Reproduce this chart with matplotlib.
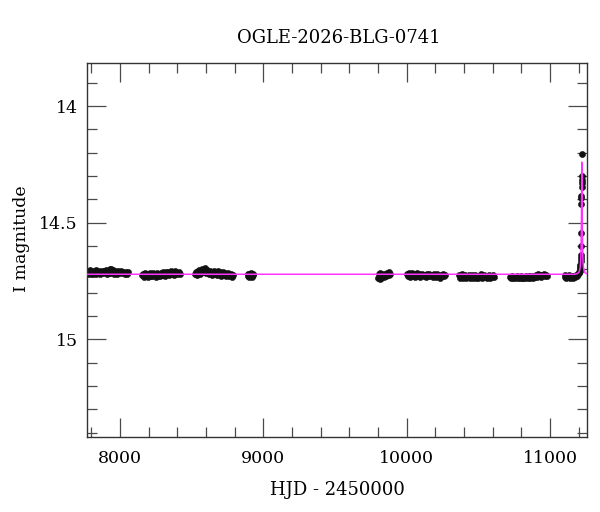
import matplotlib
matplotlib.use("Agg")
import matplotlib.pyplot as plt
from matplotlib.ticker import MultipleLocator

plt.rcParams['font.family'] = ['DejaVu Serif']

title = "OGLE-2026-BLG-0741"
xlabel = "HJD - 2450000"
ylabel = "I magnitude"

# ---- observations (HJD-2450000, I mag), per season ----
t_s1 = [7774, 7779, 7786, 7792, 7797, 7805, 7811, 7818, 7823, 7830, 7836, 7843, 7849, 7856,
        7862, 7868, 7875, 7881, 7888, 7894, 7901, 7907, 7914, 7920, 7927, 7933, 7940, 7946,
        7953, 7959, 7966, 7973, 7980, 7988, 7996, 8005, 8014, 8024, 8034, 8043, 8051, 8058]
m_s1 = [14.709, 14.720, 14.712, 14.704, 14.718, 14.711, 14.722, 14.707, 14.715, 14.703, 14.719,
        14.710, 14.716, 14.706, 14.721, 14.712, 14.705, 14.717, 14.709, 14.713, 14.702, 14.719,
        14.708, 14.714, 14.700, 14.716, 14.697, 14.710, 14.703, 14.718, 14.707, 14.713, 14.720,
        14.709, 14.715, 14.705, 14.717, 14.711, 14.721, 14.713, 14.718, 14.710]

t_s2 = [8153, 8159, 8165, 8171, 8177, 8183, 8189, 8195, 8201, 8207, 8213, 8219, 8225, 8231,
        8237, 8243, 8249, 8255, 8261, 8267, 8273, 8279, 8285, 8291, 8297, 8303, 8309, 8315,
        8321, 8327, 8333, 8339, 8346, 8353, 8360, 8368, 8376, 8384, 8392, 8401, 8411, 8421]
m_s2 = [14.726, 14.718, 14.731, 14.722, 14.715, 14.729, 14.720, 14.733, 14.724, 14.717, 14.728,
        14.721, 14.730, 14.716, 14.725, 14.719, 14.732, 14.723, 14.714, 14.727, 14.720, 14.729,
        14.716, 14.724, 14.712, 14.726, 14.719, 14.728, 14.713, 14.722, 14.710, 14.725, 14.717,
        14.706, 14.721, 14.712, 14.723, 14.705, 14.716, 14.722, 14.713, 14.719]

t_s3 = [8524, 8530, 8536, 8542, 8548, 8554, 8560, 8566, 8572, 8578, 8584, 8590, 8596, 8602,
        8608, 8614, 8620, 8626, 8632, 8638, 8644, 8650, 8656, 8662, 8668, 8674, 8680, 8686,
        8692, 8698, 8704, 8711, 8718, 8725, 8732, 8740, 8748, 8756, 8764, 8772, 8781, 8790]
m_s3 = [14.720, 14.711, 14.724, 14.706, 14.716, 14.702, 14.719, 14.708, 14.699, 14.713, 14.703,
        14.695, 14.709, 14.717, 14.704, 14.712, 14.721, 14.707, 14.715, 14.710, 14.723, 14.714,
        14.706, 14.719, 14.712, 14.725, 14.716, 14.709, 14.722, 14.713, 14.727, 14.718, 14.711,
        14.724, 14.716, 14.729, 14.720, 14.714, 14.727, 14.721, 14.731, 14.723]

t_s4 = [8890, 8895, 8899, 8903, 8907, 8911, 8915, 8920, 8925, 8929]
m_s4 = [14.727, 14.718, 14.731, 14.722, 14.729, 14.716, 14.726, 14.733, 14.720, 14.725]

t_s5 = [9803, 9807, 9811, 9815, 9819, 9824, 9829, 9835, 9842, 9850, 9858, 9866, 9874, 9880, 9885]
m_s5 = [14.735, 14.722, 14.741, 14.715, 14.730, 14.738, 14.719, 14.727, 14.733, 14.721, 14.728,
        14.716, 14.724, 14.713, 14.720]

t_s6 = [10003, 10009, 10015, 10022, 10028, 10035, 10042, 10049, 10056, 10063, 10070, 10078,
        10086, 10094, 10102, 10110, 10118, 10126, 10134, 10142, 10150, 10158, 10166, 10174,
        10182, 10190, 10198, 10206, 10214, 10222, 10230, 10238, 10246, 10254, 10261, 10267]
m_s6 = [14.718, 14.729, 14.714, 14.733, 14.721, 14.716, 14.727, 14.719, 14.731, 14.723, 14.717,
        14.728, 14.722, 14.732, 14.725, 14.719, 14.730, 14.724, 14.734, 14.721, 14.727, 14.718,
        14.729, 14.723, 14.733, 14.720, 14.726, 14.731, 14.719, 14.728, 14.735, 14.724, 14.730,
        14.722, 14.728, 14.725]

t_s7 = [10362, 10369, 10376, 10383, 10390, 10397, 10404, 10411, 10418, 10425, 10432, 10439,
        10446, 10453, 10460, 10467, 10474, 10481, 10488, 10495, 10502, 10509, 10516, 10523,
        10530, 10537, 10544, 10551, 10558, 10565, 10572, 10580, 10588, 10596, 10604, 10612]
m_s7 = [14.726, 14.735, 14.729, 14.722, 14.737, 14.731, 14.725, 14.738, 14.728, 14.733, 14.723,
        14.736, 14.730, 14.726, 14.739, 14.732, 14.724, 14.735, 14.729, 14.737, 14.727, 14.733,
        14.722, 14.736, 14.730, 14.725, 14.734, 14.728, 14.738, 14.731, 14.724, 14.735, 14.729,
        14.733, 14.726, 14.731]

t_s8 = [10719, 10726, 10733, 10740, 10747, 10754, 10761, 10768, 10775, 10782, 10789, 10796,
        10803, 10810, 10817, 10824, 10831, 10838, 10845, 10852, 10859, 10866, 10873, 10880,
        10887, 10894, 10901, 10908, 10915, 10922, 10930, 10938, 10946, 10955, 10964, 10971, 10978]
m_s8 = [14.733, 14.738, 14.729, 14.736, 14.731, 14.739, 14.734, 14.728, 14.737, 14.732, 14.739,
        14.730, 14.735, 14.738, 14.731, 14.736, 14.729, 14.734, 14.738, 14.730, 14.735, 14.727,
        14.733, 14.737, 14.729, 14.734, 14.725, 14.731, 14.722, 14.730, 14.724, 14.733, 14.726,
        14.721, 14.729, 14.724, 14.728]

t_s9 = [11102, 11108, 11114, 11120, 11127, 11134, 11141, 11148, 11155, 11162, 11169, 11176,
        11183, 11189, 11195, 11200, 11204, 11207, 11209, 11211, 11212, 11213, 11214, 11215,
        11216, 11217, 11218, 11219, 11219.5, 11220, 11220.5, 11221, 11221.5, 11222]
m_s9 = [14.732, 14.726, 14.737, 14.729, 14.734, 14.725, 14.736, 14.730, 14.727, 14.735, 14.729,
        14.733, 14.724, 14.730, 14.722, 14.716, 14.710, 14.705, 14.700, 14.690, 14.680, 14.665,
        14.650, 14.640, 14.600, 14.545, 14.420, 14.395, 14.385, 14.345, 14.330, 14.315, 14.300,
        14.207]

seasons = [(t_s1, m_s1), (t_s2, m_s2), (t_s3, m_s3), (t_s4, m_s4), (t_s5, m_s5),
           (t_s6, m_s6), (t_s7, m_s7), (t_s8, m_s8), (t_s9, m_s9)]

# ---- fitted model curve (magenta) ----
t_model = [7700, 11170, 11190, 11200, 11206, 11210, 11213, 11215, 11217, 11219, 11220.5, 11222,
           11223.5, 11225, 11227, 11229, 11231, 11234, 11238, 11244, 11254, 11300]
m_model = [14.721, 14.721, 14.718, 14.714, 14.706, 14.693, 14.673, 14.648, 14.60, 14.50, 14.38,
           14.24, 14.38, 14.50, 14.60, 14.648, 14.673, 14.693, 14.706, 14.714, 14.718, 14.721]

xlim = (7772, 11260)
ylim = (15.42, 13.814)
xticks_major = [8000, 9000, 10000, 11000]
yticks_major = [14.0, 14.5, 15.0]
ytick_labels = ["14", "14.5", "15"]

fig = plt.figure(figsize=(6.0, 5.12), dpi=100)
ax = fig.add_axes([0.1455, 0.1459, 0.8333, 0.7316])

for t, m in seasons:
    ax.plot(t, m, 'o', color='#111111', ms=4.4, mec='#111111', mew=0.4, zorder=2)
ax.plot(t_model, m_model, '-', color='#ff33ff', lw=1.1, zorder=3)

ax.set_xlim(*xlim)
ax.set_ylim(*ylim)
ax.set_xticks(xticks_major)
ax.xaxis.set_minor_locator(MultipleLocator(200))
ax.set_yticks(yticks_major)
ax.set_yticklabels(ytick_labels)
ax.yaxis.set_minor_locator(MultipleLocator(0.1))

ax.tick_params(which='both', direction='in', top=True, right=True, color='#4a4a4a', width=0.9)
ax.tick_params(which='major', length=14, labelsize=12.5)
ax.tick_params(which='minor', length=7)
ax.tick_params(axis='x', which='major', pad=9)
ax.tick_params(axis='y', which='major', pad=7)
for s in ax.spines.values():
    s.set_color('#333333')
    s.set_linewidth(1.0)

ax.set_xlabel(xlabel, fontsize=13)
ax.xaxis.set_label_coords(0.5, -0.117)
ax.set_ylabel(ylabel, fontsize=12.5)
ax.yaxis.set_label_coords(-0.1146, 0.529)

fig.text(0.565, 1 - 43 / 512, title, ha='center', va='baseline', fontsize=13)

fig.savefig("out.png", dpi=100)
